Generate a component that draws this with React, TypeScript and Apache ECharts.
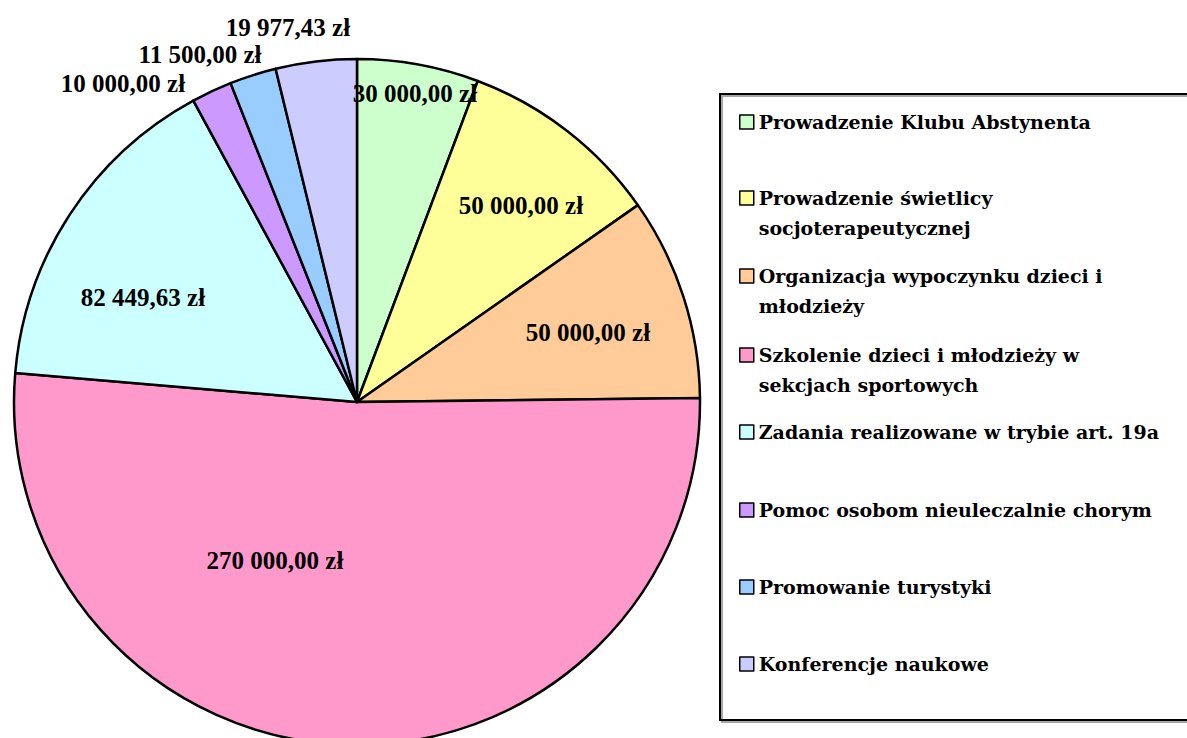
import React, { useEffect, useRef } from "react";
import * as echarts from "echarts";

const categories = [
  "Prowadzenie Klubu Abstynenta",
  "Prowadzenie świetlicy socjoterapeutycznej",
  "Organizacja wypoczynku dzieci i młodzieży",
  "Szkolenie dzieci i młodzieży w sekcjach sportowych",
  "Zadania realizowane w trybie art. 19a",
  "Pomoc osobom nieuleczalnie chorym",
  "Promowanie turystyki",
  "Konferencje naukowe",
];

// legend wrapping as in the picture
const legendLines = [
  ["Prowadzenie Klubu Abstynenta"],
  ["Prowadzenie świetlicy", "socjoterapeutycznej"],
  ["Organizacja wypoczynku dzieci i", "młodzieży"],
  ["Szkolenie dzieci i młodzieży w", "sekcjach sportowych"],
  ["Zadania realizowane w trybie art. 19a"],
  ["Pomoc osobom nieuleczalnie chorym"],
  ["Promowanie turystyki"],
  ["Konferencje naukowe"],
];

const values = [30000, 50000, 50000, 270000, 82449.63, 10000, 11500, 19977.43];

const colors = [
  "#CCFFCC",
  "#FFFF99",
  "#FFCC99",
  "#FF99CC",
  "#CCFFFF",
  "#CC99FF",
  "#99CCFF",
  "#CCCCFF",
];

// layout (styling, not data)
const CX = 357;
const CY = 402;
const R = 343;
const labelOffsets: [number, number][] = [
  [58, -309],
  [164, -197],
  [231, -70],
  [-82, 158],
  [-214, -105],
  [-234, -319],
  [-157, -348],
  [-69, -375],
];
const legendCenters = [122, 198, 276, 355, 432, 510, 587, 664];
const LH = 30;

function fmt(v: number): string {
  const [i, d] = v.toFixed(2).split(".");
  const grouped = i.replace(/\B(?=(\d{3})+(?!\d))/g, " ");
  return grouped + "," + d + " zł";
}

export default function App() {
  const ref = useRef<HTMLDivElement>(null);
  useEffect(() => {
    if (!ref.current) return;
    const chart = echarts.init(ref.current, null, { renderer: "svg" });
    const legends = categories.map((name, i) => {
      const lines = legendLines[i];
      const two = lines.length > 1;
      const text = two ? "\n" + lines.join("\n") : lines[0];
      return {
        show: true,
        orient: "vertical",
        left: 739,
        top: legendCenters[i] - (two ? LH * 1.5 : LH / 2),
        padding: 0,
        itemWidth: 14,
        itemHeight: 14,
        icon: "rect",
        selectedMode: false,
        data: [name],
        itemStyle: { borderColor: "#000", borderWidth: 1.5 },
        formatter: () => text,
        textStyle: {
          fontFamily: "DejaVu Serif",
          fontWeight: "bold",
          fontSize: 19,
          color: "#000",
          lineHeight: LH,
        },
      };
    });
    chart.setOption({
      animation: false,
      backgroundColor: "#fff",
      legend: legends,
      graphic: [
        {
          type: "rect",
          shape: { x: 720, y: 94, width: 520, height: 626 },
          style: {
            fill: "none",
            stroke: "#000",
            lineWidth: 2,
            shadowColor: "rgba(0,0,0,0.35)",
            shadowOffsetX: 2,
            shadowOffsetY: 2,
            shadowBlur: 1,
          },
          z: -1,
        },
      ],
      series: [
        {
          type: "pie",
          center: [CX, CY],
          radius: R,
          startAngle: 90,
          clockwise: true,
          avoidLabelOverlap: false,
          emphasis: { disabled: true },
          itemStyle: { borderColor: "#000", borderWidth: 2.5 },
          labelLine: { show: false },
          label: {
            show: true,
            position: "inside",
            formatter: (p: any) => fmt(p.value),
            fontFamily: "Liberation Serif",
            fontWeight: "bold",
            fontSize: 25,
            color: "#000",
          },
          labelLayout: (p: any) => {
            const o = labelOffsets[p.dataIndex];
            return {
              x: CX + o[0],
              y: CY + o[1],
              align: "center",
              verticalAlign: "middle",
            };
          },
          data: categories.map((name, i) => ({
            name,
            value: values[i],
            itemStyle: { color: colors[i] },
          })),
        },
      ],
    });
    return () => chart.dispose();
  }, []);
  return (
    <div
      ref={ref}
      style={{ position: "absolute", left: 0, top: 0, width: 1187, height: 738 }}
    />
  );
}
